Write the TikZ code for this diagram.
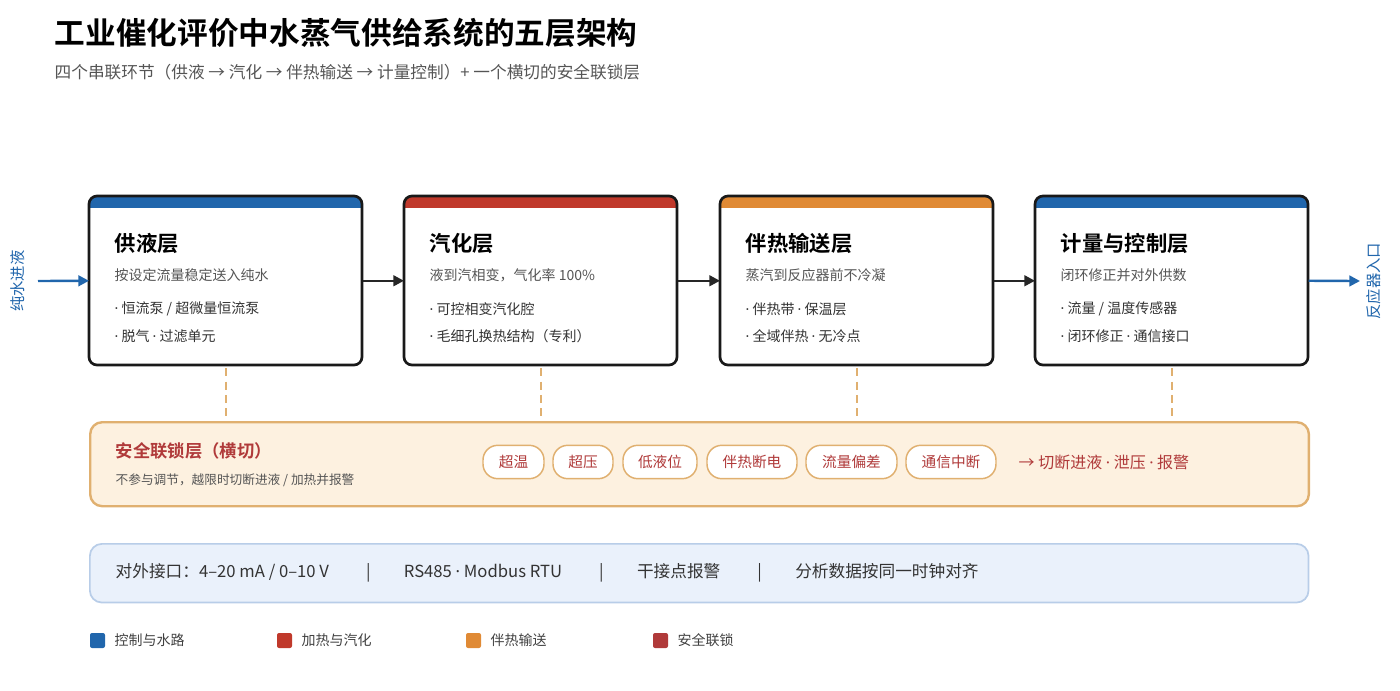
\documentclass[tikz,border=0pt]{standalone}
\usepackage{fontspec}
\setmainfont{Noto Sans CJK SC}[BoldFont={Noto Sans CJK SC Bold}]
\newfontfamily\latf{Noto Sans}
\usetikzlibrary{arrows.meta}
\definecolor{cblue}{HTML}{2166AC}
\definecolor{cred}{HTML}{C0392B}
\definecolor{corange}{HTML}{E08A35}
\definecolor{csafe}{HTML}{B03A3A}
\definecolor{gtxt}{HTML}{555555}
\definecolor{sfill}{HTML}{FDF1E0}
\definecolor{sline}{HTML}{E0B070}
\definecolor{ifill}{HTML}{EAF1FB}
\definecolor{iline}{HTML}{B8CDE8}
\newcommand{\fs}[1]{\fontsize{#1pt}{#1pt}\selectfont}
\newcommand{\md}{{\latf ·}}
\begin{document}
\begin{tikzpicture}[x=0.75pt,y=-0.75pt,
  flow/.style={-{Triangle[length=8pt,width=8pt]},line width=1.8pt,black!85},
  io/.style={-{Triangle[length=8pt,width=8pt]},line width=1.8pt,cblue},
  dashln/.style={dash pattern=on 6pt off 4pt,line width=1.8pt,sline},
  ttl/.style={anchor=west,font=\fs{16}\bfseries,text=black},
  sub/.style={anchor=west,font=\fs{10.5},text=gtxt},
  bul/.style={anchor=west,font=\fs{10.5},text=black!80},
  pill/.style={draw=sline,line width=1.1pt,rounded corners=11pt,fill=white,minimum height=25pt,inner sep=0pt,font=\fs{11},text=csafe},
  leg/.style={anchor=west,font=\fs{10.5},text=black!75}]
\useasboundingbox (0,0) rectangle (1400,690);
\node[anchor=west,font=\fs{23}\bfseries] (t) at (50,33) {工业催化评价中水蒸气供给系统的五层架构};
\node[anchor=west,font=\fs{12.5},text=gtxt] (st) at (50,72) {四个串联环节（供液 → 汽化 → 伴热输送 → 计量控制）+ 一个横切的安全联锁层};
% layers
\foreach \n/\x/\c/\a/\b/\p/\q in {
 a/89/cblue/供液层/按设定流量稳定送入纯水/{\md\ 恒流泵 / 超微量恒流泵}/\md\ 脱气 \md\ 过滤单元,
 b/404/cred/汽化层/液到汽相变，气化率 100\%/\md\ 可控相变汽化腔/\md\ 毛细孔换热结构（专利）,
 c/720/corange/伴热输送层/蒸汽到反应器前不冷凝/\md\ 伴热带 \md\ 保温层/\md\ 全域伴热 \md\ 无冷点,
 d/1035/cblue/计量与控制层/闭环修正并对外供数/{\md\ 流量 / 温度传感器}/\md\ 闭环修正 \md\ 通信接口}{
  \node[minimum width=204.75pt,minimum height=126.75pt,anchor=north west,inner sep=0pt] (\n) at (\x,196) {};
  \fill[white,rounded corners=6pt] (\x,196) rectangle ++(273,169);
  \begin{scope}
   \clip[rounded corners=6pt] (\x,196) rectangle ++(273,169);
   \fill[\c] (\x,196) rectangle ++(273,12);
  \end{scope}
  \draw[black!90,line width=2pt,rounded corners=6pt] (\x,196) rectangle ++(273,169);
  \node[ttl] (\n t) at (\x+21,243) {\a};
  \node[sub] (\n s) at (\x+21,275) {\b};
  \node[bul] (\n p) at (\x+21,309) {\p};
  \node[bul] (\n q) at (\x+21,336) {\q};
}
\draw[flow] (a.east) -- (b.west);
\draw[flow] (b.east) -- (c.west);
\draw[flow] (c.east) -- (d.west);
\node[rotate=90,font=\fs{11.5},text=cblue] (in) at (18,281) {纯水进液};
\node[rotate=90,font=\fs{11.5},text=cblue] (out) at (1374,281) {反应器入口};
\coordinate (i0) at (38,281);
\coordinate (o1) at (1360,281);
\draw[io] (i0) -- (a.west);
\draw[io] (d.east) -- (o1);
% safety
\node[draw=sline,fill=sfill,line width=1.8pt,rounded corners=9pt,anchor=north west,minimum width=914pt,minimum height=63pt] (s) at (89,421) {};
\foreach \n in {a,b,c,d}{\draw[dashln] ([yshift=-2pt]\n.south) -- (\n.south |- s.north);}
\node[anchor=west,font=\fs{13}\bfseries,text=csafe] (s1) at (111,451) {安全联锁层（横切）};
\node[anchor=west,font=\fs{9.5},text=gtxt] (s2) at (111,480) {不参与调节，越限时切断进液 / 加热并报警};
\foreach \n/\l/\r/\t in {p1/483/544/超温,p2/553/613/超压,p3/623/697/低液位,p4/707/797/伴热断电,p5/806/897/流量偏差,p6/906/996/通信中断}{
  \node[pill,minimum width={(\r-\l)*0.75pt}] (\n) at ({(\l+\r)/2},462) {\t};
}
\node[anchor=west,font=\fs{12},text=csafe] (s3) at (1014,462) {→ 切断进液 \md\ 泄压 \md\ 报警};
% interface
\node[draw=iline,fill=ifill,line width=1.3pt,rounded corners=9pt,anchor=north west,minimum width=914pt,minimum height=44pt] (ifc) at (89,543) {};
\node[anchor=west,font=\fs{12.5},text=black!80] (it) at (111,573) {对外接口：4–20 mA / 0–10 V \quad\quad|\quad\quad RS485 \md\ Modbus RTU \quad\quad|\quad\quad 干接点报警 \quad\quad|\quad\quad 分析数据按同一时钟对齐};
% legend
\foreach \n/\x/\c/\t in {l1/90/cblue/控制与水路,l2/277/cred/加热与汽化,l3/466/corange/伴热输送,l4/653/csafe/安全联锁}{
  \fill[\c,rounded corners=1.5pt] (\x,633) rectangle ++(15,15);
  \node[leg] (\n) at (\x+20,640) {\t};
}
\end{tikzpicture}
\end{document}
